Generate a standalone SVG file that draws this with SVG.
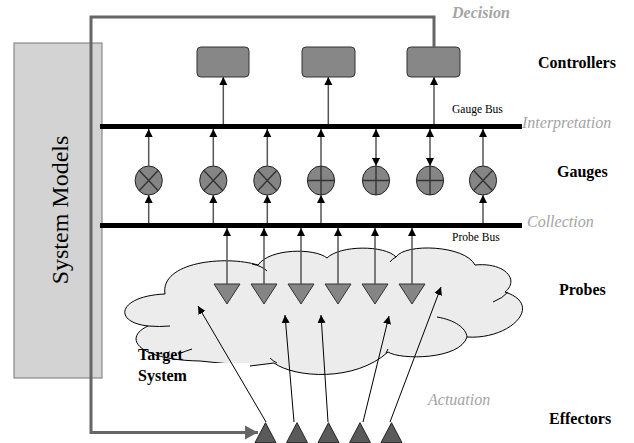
<svg xmlns="http://www.w3.org/2000/svg" width="634" height="443" viewBox="0 0 634 443">
<style>
.lbl{font-family:"Liberation Serif","Times New Roman",serif;font-weight:bold;font-size:16px;fill:#000}
.phase{font-family:"Liberation Serif","Times New Roman",serif;font-style:italic;font-size:16px;fill:#a4a4a4}
.bus{font-family:"Liberation Serif","Times New Roman",serif;font-size:11.5px;fill:#000}
.ctrl{fill:#878787;stroke:#333;stroke-width:1}
.gauge{fill:#858585;stroke:#222;stroke-width:1}
.gx{stroke:#333;stroke-width:1.4}
.probe{fill:#858585;stroke:#333;stroke-width:1}
.eff{fill:#5a5a5a;stroke:#222;stroke-width:1}
.c{stroke:#555;stroke-width:1.5;fill:none;marker-end:url(#ah)}
.e{stroke:#000;stroke-width:1;fill:none;marker-end:url(#ah)}
.busline{stroke:#000;stroke-width:5}
.cloudline{fill:none;stroke:#000;stroke-width:1}
</style>
<defs>
<marker id="ah" markerUnits="userSpaceOnUse" markerWidth="9" markerHeight="9" refX="8" refY="4" orient="auto-start-reverse" viewBox="0 0 9 8">
<path d="M0,0 L8,4 L0,8 z" fill="#000"/>
</marker>
<marker id="gah" markerUnits="userSpaceOnUse" markerWidth="14" markerHeight="15" refX="13" refY="7" orient="auto" viewBox="0 0 14 14">
<path d="M0,0 L13,7 L0,14 z" fill="#666"/>
</marker>
</defs>
<rect width="634" height="443" fill="#fff"/>

<g id="system-models">
<rect x="14" y="43" width="88" height="335" fill="#d3d3d3" stroke="#777" stroke-width="1"/>
<text transform="translate(68,210) rotate(-90)" text-anchor="middle" font-family="Liberation Serif, Times New Roman, serif" font-size="24">System Models</text>
</g>

<g id="target-system">
<path d="M165,294 C118,296 112,322 148,326 C122,338 138,360 200,361 L250,366 L274,363 C295,378 355,382 388,352 C400,360 460,360 467,337 C510,340 545,305 505,292 C520,280 505,262 475,265 C465,245 405,243 396,257 C385,245 340,245 327,258 C315,248 270,248 258,265 C225,255 160,262 165,294 Z" fill="#ececec" stroke="#000" stroke-width="1"/>
<path class="cloudline" d="M252,264 Q262,266 267,271"/>
<path class="cloudline" d="M148,326 Q160,327 170,326"/>
<path class="cloudline" d="M270,358 Q273,361 277,363"/>
<path class="cloudline" d="M386,353 L388,349"/>
<path class="cloudline" d="M437,317 C455,320 466,328 467,337"/>
<path class="cloudline" d="M493,302 Q503,298 508,292"/>
<path class="cloudline" d="M396,257 Q392,259 390,262"/>
<path class="cloudline" d="M178,354 Q186,351 192,349"/>
<rect x="133" y="363" width="117" height="30" fill="#fff"/>
<text class="lbl" x="138" y="359.5">Target</text>
<text class="lbl" x="138" y="381">System</text>
</g>

<g id="buses">
<line class="busline" x1="100" y1="126.5" x2="522" y2="126.5"/>
<line class="busline" x1="100" y1="225.5" x2="522" y2="225.5"/>
<text class="bus" x="452" y="112.5">Gauge Bus</text>
<text class="bus" x="452" y="240.5">Probe Bus</text>
</g>

<g id="controllers">
<rect class="ctrl" x="197" y="47" width="52" height="30" rx="4"/>
<rect class="ctrl" x="302" y="47" width="53" height="30" rx="4"/>
<rect class="ctrl" x="407" y="47" width="53" height="30" rx="4"/>
</g>

<g id="gauges">
<g id="g1"><ellipse class="gauge" cx="148.7" cy="180.5" rx="13.6" ry="14.5"/><path class="gx" d="M139.1,170.3 L158.3,190.7 M158.3,170.3 L139.1,190.7"/></g>
<g id="g2"><ellipse class="gauge" cx="213.3" cy="180.5" rx="13.6" ry="14.5"/><path class="gx" d="M203.7,170.3 L222.9,190.7 M222.9,170.3 L203.7,190.7"/></g>
<g id="g3"><ellipse class="gauge" cx="267.3" cy="180.5" rx="13.6" ry="14.5"/><path class="gx" d="M257.7,170.3 L276.9,190.7 M276.9,170.3 L257.7,190.7"/></g>
<g id="g4"><ellipse class="gauge" cx="321" cy="180.5" rx="13.6" ry="14.5"/><path class="gx" d="M307.4,180.5 L334.6,180.5 M321,166 L321,195"/></g>
<g id="g5"><ellipse class="gauge" cx="376" cy="180.5" rx="13.6" ry="14.5"/><path class="gx" d="M362.4,180.5 L389.6,180.5 M376,166 L376,195"/></g>
<g id="g6"><ellipse class="gauge" cx="430" cy="180.5" rx="13.6" ry="14.5"/><path class="gx" d="M416.4,180.5 L443.6,180.5 M430,166 L430,195"/></g>
<g id="g7"><ellipse class="gauge" cx="483" cy="180.5" rx="13.6" ry="14.5"/><path class="gx" d="M473.4,170.3 L492.6,190.7 M492.6,170.3 L473.4,190.7"/></g>
</g>

<g id="probes">
<polygon class="probe" points="214,284 240,284 227,304"/>
<polygon class="probe" points="251,284 277,284 264,304"/>
<polygon class="probe" points="288,284 314,284 301,304"/>
<polygon class="probe" points="325,284 351,284 338,304"/>
<polygon class="probe" points="362,284 388,284 375,304"/>
<polygon class="probe" points="399,284 425,284 412,304"/>
</g>

<g id="effectors">
<polygon class="eff" points="255,442.7 276,442.7 265.5,422.7"/>
<polygon class="eff" points="286.5,442.7 307.5,442.7 297,422.7"/>
<polygon class="eff" points="318,442.7 339,442.7 328.5,422.7"/>
<polygon class="eff" points="349.5,442.7 370.5,442.7 360,422.7"/>
<polygon class="eff" points="381,442.7 402,442.7 391.5,422.7"/>
</g>

<g id="connectors">
<path d="M434,47 L434,17 L91,17 L91,432.5 L258,432.5" fill="none" stroke="#666" stroke-width="3" marker-end="url(#gah)"/>
<line class="c" x1="223.3" y1="124" x2="223.3" y2="77"/>
<line class="c" x1="328.3" y1="124" x2="328.3" y2="77"/>
<line class="c" x1="434" y1="124" x2="434" y2="77"/>
<line class="c" x1="148.7" y1="166" x2="148.7" y2="129"/>
<line class="c" x1="213.3" y1="166" x2="213.3" y2="129"/>
<line class="c" x1="267.3" y1="166" x2="267.3" y2="129"/>
<line class="c" x1="321" y1="166" x2="321" y2="129"/>
<line class="c" x1="376" y1="166" x2="376" y2="129" marker-start="url(#ah)"/>
<line class="c" x1="430" y1="166" x2="430" y2="129" marker-start="url(#ah)"/>
<line class="c" x1="483" y1="166" x2="483" y2="129"/>
<line class="c" x1="148.7" y1="223" x2="148.7" y2="195"/>
<line class="c" x1="213.3" y1="223" x2="213.3" y2="195"/>
<line class="c" x1="267.3" y1="223" x2="267.3" y2="195"/>
<line class="c" x1="321" y1="223" x2="321" y2="195"/>
<line class="c" x1="483" y1="223" x2="483" y2="195"/>
<line class="c" x1="227" y1="284" x2="227" y2="228"/>
<line class="c" x1="264" y1="284" x2="264" y2="228"/>
<line class="c" x1="301" y1="284" x2="301" y2="228"/>
<line class="c" x1="338" y1="284" x2="338" y2="228"/>
<line class="c" x1="375" y1="284" x2="375" y2="228"/>
<line class="c" x1="412" y1="284" x2="412" y2="228"/>
<line class="e" x1="266" y1="422" x2="198" y2="306"/>
<line class="e" x1="294" y1="422" x2="285" y2="315"/>
<line class="e" x1="328" y1="422" x2="321" y2="315"/>
<line class="e" x1="363" y1="422" x2="389" y2="316"/>
<line class="e" x1="390" y1="422" x2="441" y2="287"/>
</g>

<g id="labels">
<text class="lbl" x="538" y="68">Controllers</text>
<text class="lbl" x="557" y="177">Gauges</text>
<text class="lbl" x="559" y="295">Probes</text>
<text class="lbl" x="549" y="424">Effectors</text>
<text class="phase" x="452" y="18" font-weight="bold">Decision</text>
<text class="phase" x="522" y="128">Interpretation</text>
<text class="phase" x="527" y="227">Collection</text>
<text class="phase" x="428" y="405">Actuation</text>
</g>
</svg>
